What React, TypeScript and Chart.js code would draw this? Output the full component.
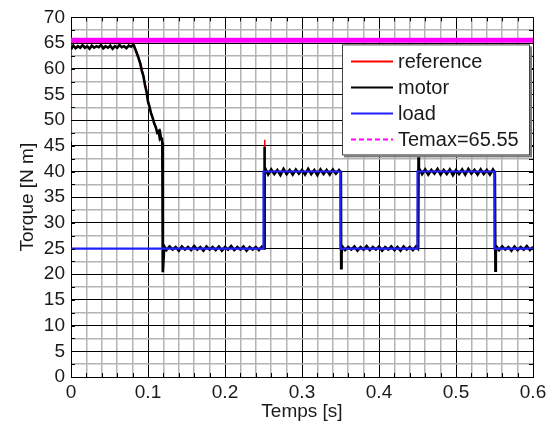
import React, { useEffect, useRef } from 'react';
import { Chart, registerables } from 'chart.js';

Chart.register(...registerables);

// ---------- data ----------
const xTickLabels = ['0', '0.1', '0.2', '0.3', '0.4', '0.5', '0.6'];
const xTickValues = [0, 0.1, 0.2, 0.3, 0.4, 0.5, 0.6];
const yTickValues = [0, 5, 10, 15, 20, 25, 30, 35, 40, 45, 50, 55, 60, 65, 70];

const seriesNames = ['reference', 'motor', 'load', 'Temax=65.55'];

const temaxValue = 65.55;

const loadT = [0, 0.25, 0.25, 0.35, 0.35, 0.45, 0.45, 0.55, 0.55, 0.6];
const loadV = [25, 25, 40, 40, 25, 25, 40, 40, 25, 25];

const refT = [0, 0.0004, 0.081, 0.084, 0.087, 0.09, 0.094, 0.098, 0.1, 0.104, 0.108, 0.112, 0.115, 0.118, 0.1194, 0.1199, 0.2514, 0.2514, 0.2519, 0.35, 0.35, 0.4514, 0.4514, 0.4519, 0.55, 0.55, 0.6];
const refV = [46, 65.2, 65.2, 63.8, 62.6, 61.2, 58.8, 55.8, 53.6, 51.3, 49.4, 47.6, 46.8, 46.2, 36, 25, 25, 46.2, 40, 40, 25, 25, 43.5, 40, 40, 25, 25];

const motorRunupT = [0, 0.003, 0.006, 0.009, 0.012, 0.015, 0.018, 0.021, 0.024, 0.027, 0.03, 0.033, 0.036, 0.039, 0.042, 0.045, 0.048, 0.051, 0.054, 0.057, 0.06, 0.063, 0.066, 0.069, 0.072, 0.075, 0.078, 0.081];
const motorRunupV = [63.8, 64.5, 64.0, 64.4, 64.1, 64.6, 64.1, 64.4, 63.9, 64.5, 64.1, 64.4, 64.2, 64.6, 64.0, 64.4, 64.1, 64.5, 63.9, 64.4, 64.1, 64.6, 64.2, 64.4, 64.0, 64.5, 64.3, 64.7];

const motorDecelT = [0.084, 0.087, 0.09, 0.092, 0.094, 0.096, 0.098, 0.1, 0.102, 0.104, 0.106, 0.108, 0.11, 0.112, 0.114, 0.115, 0.116, 0.117, 0.118, 0.1186, 0.119, 0.1194, 0.12, 0.1212];
const motorDecelV = [63.6, 62.4, 61.0, 59.6, 58.6, 56.9, 55.6, 53.6, 52.6, 51.3, 50.5, 49.4, 48.7, 47.6, 47.9, 46.8, 47.3, 46.3, 46.6, 45.6, 36.0, 20.4, 22.5, 25.4];

const motorLow1T = [0.124, 0.128, 0.132, 0.136, 0.14, 0.144, 0.148, 0.152, 0.156, 0.16, 0.164, 0.168, 0.172, 0.176, 0.18, 0.184, 0.188, 0.192, 0.196, 0.2, 0.204, 0.208, 0.212, 0.216, 0.22, 0.224, 0.228, 0.232, 0.236, 0.24, 0.244, 0.248, 0.2508];
const motorLow1V = [24.7, 25.4, 24.8, 25.3, 24.6, 25.4, 24.8, 25.3, 24.7, 25.5, 24.8, 25.3, 24.6, 25.4, 24.8, 25.3, 24.7, 25.4, 24.6, 25.3, 24.8, 25.5, 24.7, 25.3, 24.8, 25.4, 24.6, 25.3, 24.8, 25.3, 24.7, 25.4, 25.0];

const motorHigh1T = [0.2512, 0.2516, 0.2525, 0.256, 0.26, 0.264, 0.268, 0.272, 0.276, 0.28, 0.284, 0.288, 0.292, 0.296, 0.3, 0.304, 0.308, 0.312, 0.316, 0.32, 0.324, 0.328, 0.332, 0.336, 0.34, 0.344, 0.348, 0.3505];
const motorHigh1V = [44.8, 40.2, 40.5, 39.4, 40.4, 39.5, 40.3, 39.3, 40.5, 39.5, 40.3, 39.4, 40.4, 39.6, 40.3, 39.4, 40.5, 39.5, 40.3, 39.3, 40.4, 39.5, 40.3, 39.4, 40.4, 39.6, 40.3, 39.8];

const motorLow2T = [0.3509, 0.3514, 0.3525, 0.356, 0.36, 0.364, 0.368, 0.372, 0.376, 0.38, 0.384, 0.388, 0.392, 0.396, 0.4, 0.404, 0.408, 0.412, 0.416, 0.42, 0.424, 0.428, 0.432, 0.436, 0.44, 0.444, 0.448, 0.4505];
const motorLow2V = [21.2, 24.0, 25.4, 24.7, 25.3, 24.8, 25.4, 24.6, 25.3, 24.8, 25.5, 24.7, 25.3, 24.8, 25.4, 24.6, 25.3, 24.8, 25.4, 24.7, 25.3, 24.6, 25.4, 24.8, 25.3, 24.7, 25.4, 25.0];

const motorHigh2T = [0.4514, 0.4518, 0.4525, 0.456, 0.46, 0.464, 0.468, 0.472, 0.476, 0.48, 0.484, 0.488, 0.492, 0.496, 0.5, 0.504, 0.508, 0.512, 0.516, 0.52, 0.524, 0.528, 0.532, 0.536, 0.54, 0.544, 0.548, 0.5505];
const motorHigh2V = [43.2, 40.3, 40.5, 39.5, 40.4, 39.4, 40.3, 39.6, 40.5, 39.4, 40.3, 39.5, 40.4, 39.3, 40.3, 39.5, 40.4, 39.4, 40.5, 39.6, 40.3, 39.4, 40.4, 39.5, 40.3, 39.4, 40.4, 39.8];

const motorLow3T = [0.5512, 0.5517, 0.5525, 0.556, 0.56, 0.564, 0.568, 0.572, 0.576, 0.58, 0.584, 0.588, 0.592, 0.596, 0.6];
const motorLow3V = [20.7, 24.0, 25.4, 24.7, 25.4, 24.8, 25.3, 24.6, 25.4, 24.7, 25.3, 24.8, 25.5, 24.7, 25.3];

// ---------- helpers ----------
const toPts = (t: number[], v: number[]) => t.map((x, i) => ({ x, y: v[i] }));
const near = (a: number, b: number) => Math.abs(a - b) < 1e-7;
const isMajorX = (v: number) => xTickValues.some((m) => near(m, v));
const isMajorY = (v: number) => yTickValues.some((m) => near(m, v));

const FONT = "'Liberation Sans', Arial, sans-serif";
const TEXT_COLOR = '#1a1a1a';
const seriesColors = ['#ff0000', '#000000', '#2020ff', '#ff00ff'];

const innerTicksPlugin = {
  id: 'innerTicks',
  afterDatasetsDraw(chart: any) {
    const { ctx, chartArea: a, scales } = chart;
    const len = 4;
    ctx.save();
    ctx.strokeStyle = '#000';
    ctx.lineWidth = 1;
    ctx.beginPath();
    scales.x.ticks.forEach((t: any) => {
      const px = Math.round(scales.x.getPixelForValue(t.value)) + 0.5;
      ctx.moveTo(px, a.bottom);
      ctx.lineTo(px, a.bottom - len);
      ctx.moveTo(px, a.top);
      ctx.lineTo(px, a.top + len);
    });
    scales.y.ticks.forEach((t: any) => {
      const py = Math.round(scales.y.getPixelForValue(t.value)) + 0.5;
      ctx.moveTo(a.left, py);
      ctx.lineTo(a.left + len, py);
      ctx.moveTo(a.right, py);
      ctx.lineTo(a.right - len, py);
    });
    ctx.stroke();
    ctx.restore();
  },
};

const boxLegendPlugin = {
  id: 'boxLegend',
  afterDraw(chart: any) {
    const { ctx, chartArea: a } = chart;
    const w = 188;
    const h = 111;
    const x0 = a.right - 191;
    const y0 = a.top + 27;
    ctx.save();
    ctx.fillStyle = '#7a7a7a';
    ctx.fillRect(x0 + 2, y0 + 2, w, h);
    ctx.fillStyle = '#ffffff';
    ctx.fillRect(x0, y0, w, h);
    ctx.strokeStyle = '#444';
    ctx.lineWidth = 1;
    ctx.strokeRect(x0 + 0.5, y0 + 0.5, w - 1, h - 1);
    ctx.font = `20px ${FONT}`;
    ctx.textBaseline = 'middle';
    ctx.textAlign = 'left';
    seriesNames.forEach((name, i) => {
      const y = y0 + 17 + i * 26;
      ctx.beginPath();
      ctx.strokeStyle = seriesColors[i];
      ctx.lineWidth = 2;
      ctx.setLineDash(i === 3 ? [5, 3] : []);
      ctx.moveTo(x0 + 9, y);
      ctx.lineTo(x0 + 51, y);
      ctx.stroke();
      ctx.setLineDash([]);
      ctx.fillStyle = TEXT_COLOR;
      ctx.fillText(name, x0 + 56, y + 1);
    });
    ctx.restore();
  },
};

export default function App() {
  const canvasRef = useRef<HTMLCanvasElement | null>(null);

  useEffect(() => {
    if (!canvasRef.current) return;
    const motorPts = [
      ...toPts(motorRunupT, motorRunupV),
      ...toPts(motorDecelT, motorDecelV),
      ...toPts(motorLow1T, motorLow1V),
      ...toPts(motorHigh1T, motorHigh1V),
      ...toPts(motorLow2T, motorLow2V),
      ...toPts(motorHigh2T, motorHigh2V),
      ...toPts(motorLow3T, motorLow3V),
    ];
    const chart = new Chart(canvasRef.current, {
      type: 'line',
      data: {
        datasets: [
          {
            label: seriesNames[0],
            data: toPts(refT, refV),
            borderColor: seriesColors[0],
            borderWidth: 1.5,
            pointRadius: 0,
            order: 4,
          },
          {
            label: seriesNames[1],
            data: motorPts,
            borderColor: seriesColors[1],
            borderWidth: 2.6,
            pointRadius: 0,
            order: 3,
          },
          {
            label: seriesNames[2],
            data: toPts(loadT, loadV),
            borderColor: seriesColors[2],
            borderWidth: 2.2,
            pointRadius: 0,
            order: 2,
          },
          {
            label: seriesNames[3],
            data: [
              { x: 0, y: temaxValue },
              { x: 0.6, y: temaxValue },
            ],
            borderColor: seriesColors[3],
            borderWidth: 5,
            pointRadius: 0,
            order: 1,
          },
        ],
      },
      options: {
        animation: false,
        responsive: false,
        maintainAspectRatio: false,
        layout: { padding: { top: 15, right: 24, bottom: 0, left: 0 } },
        plugins: { legend: { display: false }, tooltip: { enabled: false } },
        elements: { line: { tension: 0, borderJoinStyle: 'miter' } },
        scales: {
          x: {
            type: 'linear',
            min: 0,
            max: 0.6,
            ticks: {
              stepSize: 0.02,
              autoSkip: false,
              maxRotation: 0,
              padding: 4,
              color: TEXT_COLOR,
              font: { family: FONT, size: 19 },
              callback: (v: any) => {
                const idx = xTickValues.findIndex((m) => near(m, Number(v)));
                return idx >= 0 ? xTickLabels[idx] : '';
              },
            },
            grid: {
              drawTicks: false,
              color: (c: any) => (isMajorX(c.tick.value) ? '#000000' : '#b4b4b4'),
              lineWidth: (c: any) => (isMajorX(c.tick.value) ? 1 : 1.5),
            },
            border: { display: true, color: '#000', width: 1 },
            title: {
              display: true,
              text: 'Temps [s]',
              color: TEXT_COLOR,
              font: { family: FONT, size: 19 },
              padding: { top: 0, bottom: 4 },
            },
            afterFit: (s: any) => {
              s.height = 50;
            },
          },
          y: {
            type: 'linear',
            min: 0,
            max: 70,
            ticks: {
              stepSize: 2.5,
              autoSkip: false,
              padding: 6,
              color: TEXT_COLOR,
              font: { family: FONT, size: 19 },
              callback: (v: any) => (isMajorY(Number(v)) ? String(v) : ''),
            },
            grid: {
              drawTicks: false,
              color: (c: any) => (isMajorY(c.tick.value) ? '#000000' : '#b4b4b4'),
              lineWidth: (c: any) => (isMajorY(c.tick.value) ? 1 : 1.5),
            },
            border: { display: true, color: '#000', width: 1 },
            title: {
              display: true,
              text: 'Torque [N m]',
              color: TEXT_COLOR,
              font: { family: FONT, size: 19 },
              padding: { top: 16, bottom: 0 },
            },
            afterFit: (s: any) => {
              s.width = 71;
            },
          },
        },
      },
      plugins: [innerTicksPlugin, boxLegendPlugin],
    } as any);
    return () => chart.destroy();
  }, []);

  return (
    <div style={{ position: 'fixed', left: 0, top: 0, width: 557, height: 427, background: '#fff' }}>
      <canvas ref={canvasRef} width={557} height={427} style={{ display: 'block', width: 557, height: 427 }} />
    </div>
  );
}
